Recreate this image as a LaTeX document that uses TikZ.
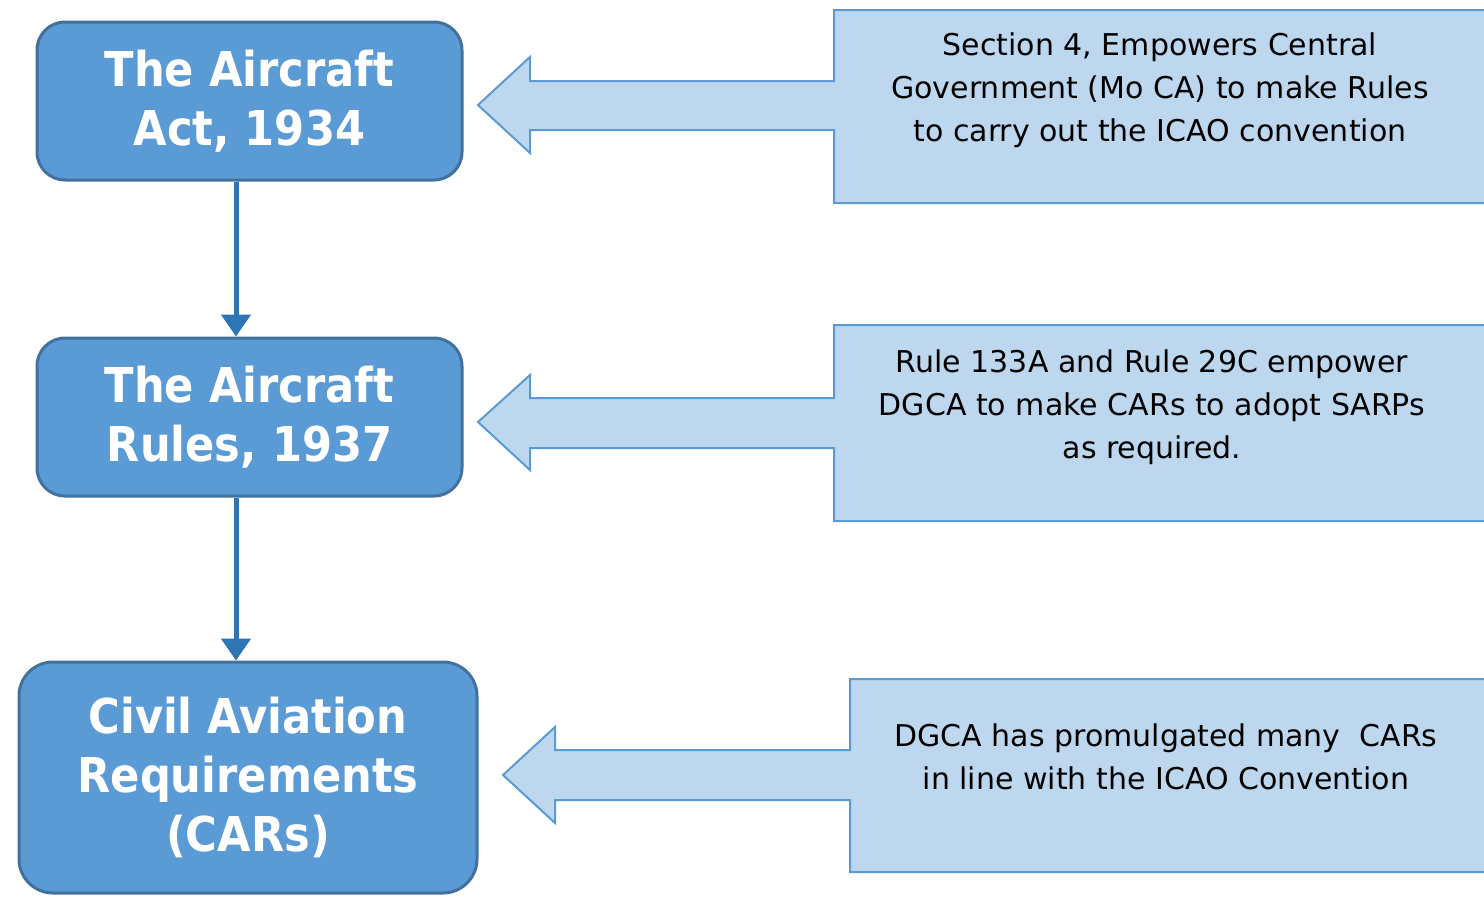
\documentclass[tikz,border=0pt]{standalone}
\usepackage{fontspec}
\setmainfont{DejaVu Sans}
\newfontfamily\boxfont{DejaVu Sans Condensed}
\usetikzlibrary{arrows.meta}
\definecolor{boxblue}{HTML}{5B9BD5}
\definecolor{boxedge}{HTML}{41719C}
\definecolor{linkblue}{HTML}{2E75B6}
\definecolor{notefill}{HTML}{BDD7EE}
\definecolor{noteedge}{HTML}{5B9BD5}

\begin{document}
\begin{tikzpicture}[x=0.5pt, y=-0.5pt,
    lawbox/.style={draw=boxedge, line width=1.5pt, fill=boxblue, rounded corners=14pt,
        text=white, align=center, font=\boxfont\bfseries\fontsize{24}{29.5}\selectfont},
    note/.style={draw=noteedge, line width=1pt, fill=notefill},
    notetext/.style={anchor=north, align=center, inner sep=0pt, font=\fontsize{15}{21.5}\selectfont},
    link/.style={-{Triangle[width=14.5pt,length=11pt]}, line width=2.5pt, draw=linkblue}]
    \useasboundingbox (0,0) rectangle (1484,896);
    \clip (0,0) rectangle (1484,896);

    % left column
    \node(act)[lawbox, minimum width=212.5pt, minimum height=79pt] at (249.5,101) {The Aircraft\\Act, 1934};
    \node(rules)[lawbox, minimum width=212.5pt, minimum height=79pt] at (249.5,417) {The Aircraft\\Rules, 1937};
    \node(cars)[lawbox, minimum width=229pt, minimum height=115.5pt, rounded corners=17pt] at (248,777.5) {Civil Aviation\\Requirements\\(CARs)};
    \draw[link] ([xshift=-6.75pt]act.south) -- ([xshift=-6.75pt]act.south |- rules.north);
    \draw[link] ([xshift=-6.75pt]rules.south) -- ([xshift=-6.75pt]rules.south |- cars.north);

    % right column
    \draw[note] (1500,10) -- (834,10) -- (834,81) -- (530,81) -- (530,57) -- (478,105) -- (530,153)
        -- (530,130) -- (834,130) -- (834,203) -- (1500,203) -- cycle;
    \draw[note] (1500,325) -- (834,325) -- (834,398) -- (530,398) -- (530,375) -- (478,422) -- (530,470)
        -- (530,448) -- (834,448) -- (834,521) -- (1500,521) -- cycle;
    \draw[note] (1500,679) -- (850,679) -- (850,750) -- (555,750) -- (555,727) -- (503,775) -- (555,823)
        -- (555,800) -- (850,800) -- (850,872) -- (1500,872) -- cycle;
    \node(actnote)[notetext] at (1160,32) {Section 4, Empowers Central\\Government (Mo CA) to make Rules\\to carry out the ICAO convention};
    \node(rulesnote)[notetext] at (1152,349) {Rule 133A and Rule 29C empower\\DGCA to make CARs to adopt SARPs\\as required.};
    \node(carsnote)[notetext] at (1166,723) {DGCA has promulgated many~ CARs\\in line with the ICAO Convention};
\end{tikzpicture}
\end{document}
